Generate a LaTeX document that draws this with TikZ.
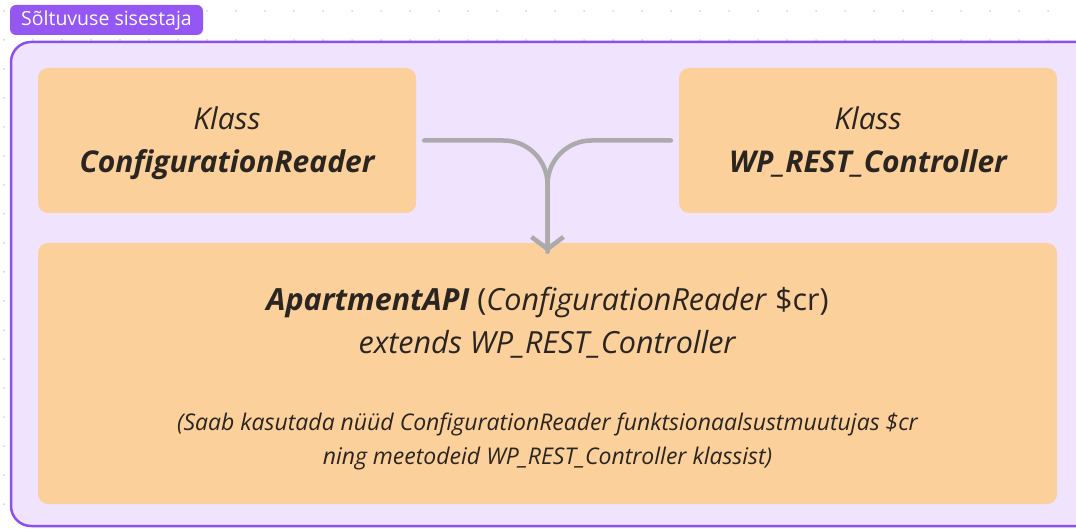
\documentclass[tikz,border=0pt]{standalone}
\usepackage{fontspec}
\setmainfont{Open Sans}
\usepackage{xcolor}
\usepackage{tikz}
\usetikzlibrary{arrows.meta,calc,positioning}

\definecolor{tagpurple}{HTML}{9557F4}
\definecolor{framepurple}{HTML}{8E4FF0}
\definecolor{lavender}{HTML}{EFE3FD}
\definecolor{peach}{HTML}{FBD09B}
\definecolor{ink}{HTML}{2A2520}
\definecolor{flowgray}{HTML}{ABABAB}
\definecolor{dotgray}{HTML}{D4D4D4}

\tikzset{
  classbox/.style={fill=peach, rounded corners=10pt, inner sep=0pt, text=ink, align=center},
  classtext/.style={text=ink, align=center, font=\fontsize{30}{43}\selectfont\itshape},
  flow/.style={draw=flowgray, line width=4.5pt, line cap=round, rounded corners=44pt},
}

\begin{document}
\begin{tikzpicture}[x=1pt, y=-1pt]
      \useasboundingbox (0,0) rectangle (1076,529);
      \clip (0,0) rectangle (1076,529);

      % dotted canvas
      \foreach \i in {0,...,37} {
        \foreach \j in {0,...,18} {
          \fill[dotgray] (4+29*\i, 11+29*\j) circle (1pt);
        }
      }

      % frame and tag
      \draw[framepurple, line width=2.5pt, fill=lavender, rounded corners=20pt]
        (11,42) rectangle (1100,526);
      \node[fill=tagpurple, rounded corners=6pt, text=white, font=\fontsize{19.5}{22}\selectfont,
            minimum width=193pt, minimum height=30pt, inner sep=0pt] (tag) at (106.5,20) {Sõltuvuse sisestaja};

      % class boxes
      \node[classbox, minimum width=378pt, minimum height=145pt] (cfg) at (227,140.5) {};
      \node[classtext] (cfgtext) at (227,143)
        {Klass\\ \textbf{ConfigurationReader}\vphantom{gj\_}};
      \node[classbox, minimum width=378pt, minimum height=145pt] (wp) at (868,140.5) {};
      \node[classtext] (wptext) at (868,143)
        {Klass\\ \textbf{WP\_REST\_Controller}\vphantom{gj\_}};

      \node[classbox, minimum width=1019pt, minimum height=261pt] (api) at (547.5,373.5) {};
      \node[text=ink, align=center, font=\fontsize{30.5}{43}\selectfont] (sig) at (547.5,323)
        {\textbf{\textit{ApartmentAPI}} (\textit{ConfigurationReader} \$cr)\\ \textit{extends WP\_REST\_Controller}};
      \node[text=ink, align=center, font=\fontsize{23}{34}\selectfont\itshape] (note) at (547.5,441)
        {(Saab kasutada nüüd ConfigurationReader funktsionaalsustmuutujas \$cr\\ ning meetodeid WP\_REST\_Controller klassist)};

      % merge connector
      \coordinate (tip) at ([yshift=-9pt]api.north);
      \draw[flow] ([xshift=8pt]cfg.east) -| (tip);
      \draw[flow, -{Straight Barb[length=12pt, width=32pt]}] ([xshift=-8pt]wp.west) -| (tip);

    \end{tikzpicture}
\end{document}
